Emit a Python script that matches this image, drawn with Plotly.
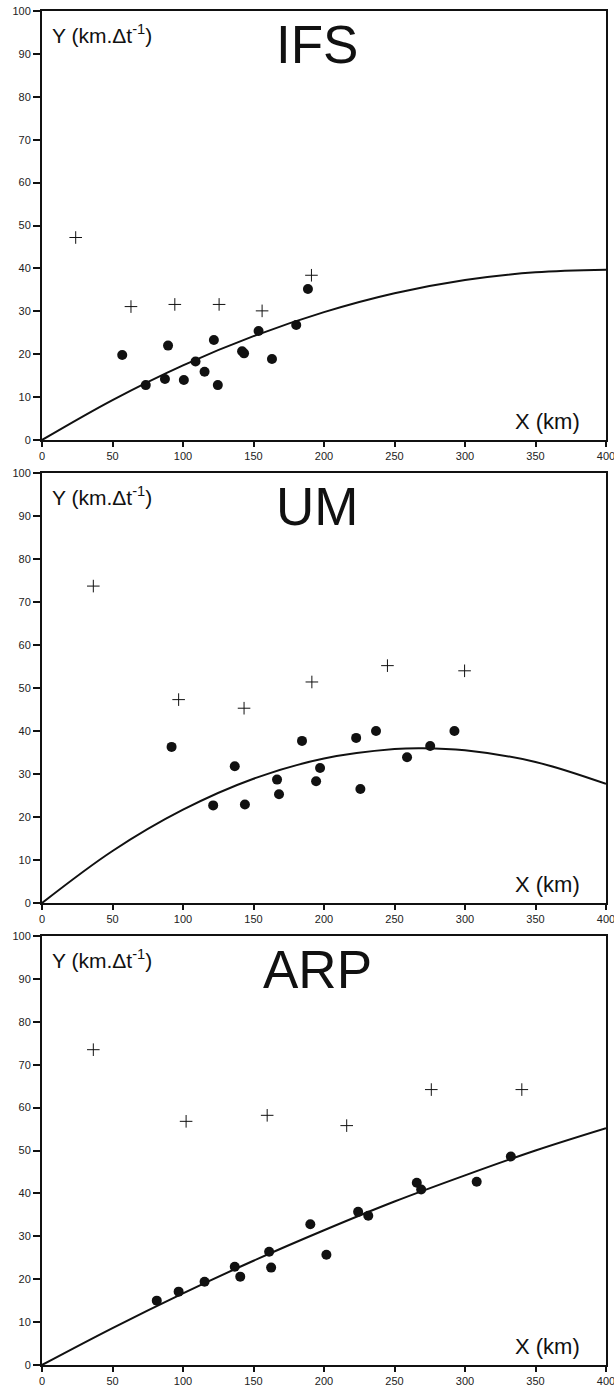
import plotly.graph_objects as go

# ---------------- data ----------------
models = ["IFS", "UM", "ARP"]

ifs_dot_x = [56.9, 73.6, 87.2, 89.4, 100.6, 108.9, 115.3, 121.9, 124.7, 141.9, 143.3, 153.6, 163.1, 180.3, 188.6]
ifs_dot_y = [19.8, 12.8, 14.2, 22.0, 14.0, 18.3, 15.9, 23.3, 12.8, 20.7, 20.2, 25.4, 18.9, 26.8, 35.2]
ifs_cross_x = [23.9, 63.1, 94.2, 125.6, 156.1, 191.1]
ifs_cross_y = [47.2, 31.1, 31.6, 31.6, 30.1, 38.4]
ifs_curve_x = [0, 50, 100, 150, 200, 250, 300, 350, 400]
ifs_curve_y = [0, 9.3, 17.4, 24.2, 29.8, 34.2, 37.3, 39.1, 39.7]

um_dot_x = [91.9, 121.4, 136.7, 143.9, 166.7, 168.1, 184.4, 194.4, 197.2, 222.8, 225.8, 236.9, 258.9, 275.3, 292.5]
um_dot_y = [36.3, 22.7, 31.8, 22.9, 28.7, 25.3, 37.7, 28.3, 31.4, 38.4, 26.5, 40.0, 33.9, 36.5, 40.0]
um_cross_x = [36.4, 96.9, 143.3, 191.4, 245.0, 299.7]
um_cross_y = [73.7, 47.3, 45.3, 51.4, 55.2, 54.0]
um_curve_x = [0, 50, 100, 150, 200, 250, 270, 300, 350, 400]
um_curve_y = [0, 12.1, 21.7, 28.9, 33.6, 35.8, 36.0, 35.5, 32.8, 27.7]

arp_dot_x = [81.4, 96.9, 115.3, 136.7, 140.6, 161.1, 162.5, 190.3, 201.7, 224.2, 231.4, 265.8, 268.9, 308.3, 332.5]
arp_dot_y = [15.0, 17.1, 19.4, 22.9, 20.6, 26.4, 22.7, 32.8, 25.7, 35.7, 34.8, 42.5, 40.9, 42.7, 48.6]
arp_cross_x = [36.4, 102.2, 159.7, 216.1, 276.1, 340.3]
arp_cross_y = [73.5, 56.8, 58.2, 55.8, 64.2, 64.2]
arp_curve_x = [0, 50, 100, 150, 200, 250, 300, 350, 400]
arp_curve_y = [0, 8.6, 16.7, 24.3, 31.4, 38.1, 44.2, 50.0, 55.2]

x_ticks = [0, 50, 100, 150, 200, 250, 300, 350, 400]
y_ticks = [0, 10, 20, 30, 40, 50, 60, 70, 80, 90, 100]

panels = [
    (ifs_dot_x, ifs_dot_y, ifs_cross_x, ifs_cross_y, ifs_curve_x, ifs_curve_y),
    (um_dot_x, um_dot_y, um_cross_x, um_cross_y, um_curve_x, um_curve_y),
    (arp_dot_x, arp_dot_y, arp_cross_x, arp_cross_y, arp_curve_x, arp_curve_y),
]

# ---------------- figure ----------------
W, H = 614, 1387
M_T, M_B = 8, 22
plot_h = H - M_T - M_B
# panel (top, bottom) pixel rows measured on the reference
rows = [(11, 440), (473, 903), (936, 1365)]
domains = [[(H - M_B - b) / plot_h, (H - M_B - t) / plot_h] for t, b in rows]

fig = go.Figure()
FONT = "Liberation Sans, Arial, sans-serif"
tickfont = dict(family=FONT, size=11, color="#222")

for i, (dx, dy, cx, cy, lx, ly) in enumerate(panels):
    n = "" if i == 0 else str(i + 1)
    xa, ya = "x" + n, "y" + n
    fig.add_trace(go.Scatter(x=lx, y=ly, mode="lines",
                             line=dict(color="#111", width=2, shape="spline", smoothing=1.0),
                             xaxis=xa, yaxis=ya, showlegend=False, hoverinfo="skip"))
    fig.add_trace(go.Scatter(x=dx, y=dy, mode="markers",
                             marker=dict(symbol="circle", size=10, color="#111", line=dict(width=0)),
                             xaxis=xa, yaxis=ya, showlegend=False))
    fig.add_trace(go.Scatter(x=cx, y=cy, mode="markers",
                             marker=dict(symbol="cross-thin", size=9, color="#111",
                                         line=dict(width=1, color="#111")),
                             xaxis=xa, yaxis=ya, showlegend=False))

    common = dict(showgrid=False, zeroline=False, showline=True, linecolor="#111", linewidth=2,
                  mirror=True, ticks="outside", tickwidth=1.5, tickcolor="#111",
                  tickfont=tickfont, automargin=False, ticklabeloverflow="allow")
    fig.update_layout(**{
        "xaxis" + n: dict(range=[0, 400], tickvals=x_ticks, ticktext=[str(v) for v in x_ticks],
                          anchor=ya, domain=[0, 1], ticklen=5, **common),
        "yaxis" + n: dict(range=[0, 100], tickvals=y_ticks, ticktext=[str(v) for v in y_ticks],
                          anchor=xa, domain=domains[i], ticklen=7, **common),
    })

    fig.add_annotation(text="Y (km.\u0394t<sup>-1</sup>)", xref=xa + " domain", yref=ya + " domain",
                       x=0.014, y=0.946, xanchor="left", yanchor="middle", showarrow=False,
                       font=dict(family=FONT, size=21, color="#111"))
    fig.add_annotation(text=models[i], xref=xa + " domain", yref=ya + " domain",
                       x=0.4876, y=0.922, xanchor="center", yanchor="middle", showarrow=False,
                       font=dict(family=FONT, size=53, color="#111"))
    fig.add_annotation(text="X (km)", xref=xa + " domain", yref=ya + " domain",
                       x=0.957, y=0.044, xanchor="right", yanchor="middle", showarrow=False,
                       font=dict(family=FONT, size=22, color="#111"))

fig.update_layout(width=W, height=H, margin=dict(l=42, r=8, t=M_T, b=M_B),
                  paper_bgcolor="white", plot_bgcolor="white")

fig.write_html("out.html", config={"displayModeBar": False},
               post_script="document.body.style.margin='0';document.body.style.overflow='hidden';")
